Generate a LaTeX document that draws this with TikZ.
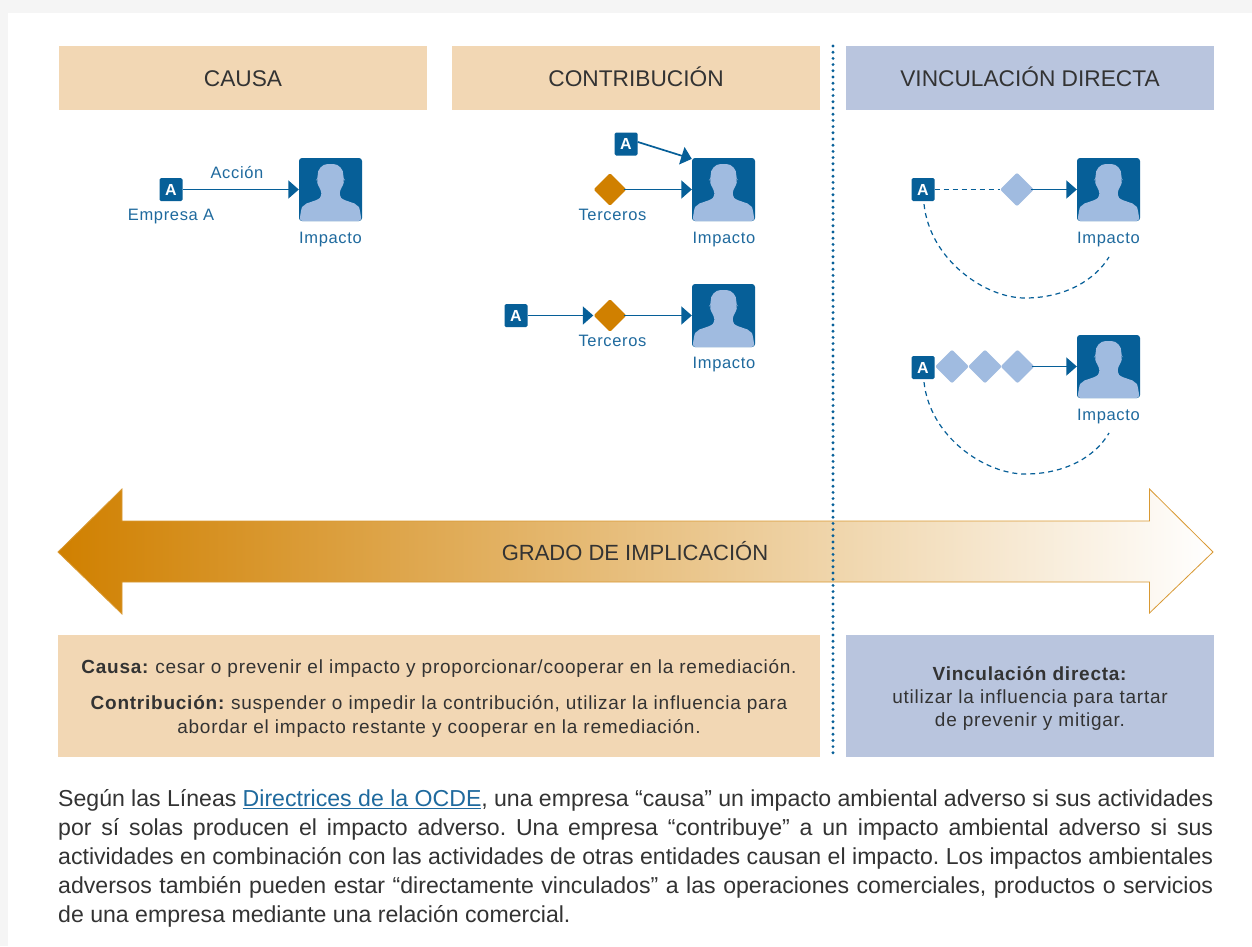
\documentclass[tikz,border=0pt]{standalone}
\usepackage{fontspec}
\setmainfont{Liberation Sans}
\usetikzlibrary{arrows.meta,shapes.geometric,calc}
\definecolor{bgGrey}{HTML}{F5F5F5}
\definecolor{sand}{HTML}{F2D7B4}
\definecolor{slate}{HTML}{B9C5DE}
\definecolor{navy}{HTML}{065F98}
\definecolor{pale}{HTML}{A0BBE0}
\definecolor{ochre}{HTML}{D08000}
\definecolor{ink}{HTML}{333333}
\definecolor{lbl}{HTML}{1F6A9E}
\newcommand{\fs}[1]{\fontsize{#1}{#1}\selectfont}
\newcommand{\track}[1]{\addfontfeature{LetterSpace=#1}}
\tikzset{
  x=1pt,y=-1pt,
  band/.style={fill=#1,minimum width=368pt,minimum height=64pt,inner sep=0pt,font=\fs{22.7},text=ink,text height=16pt,text depth=0pt},
  person/.style={fill=navy,rounded corners=3pt,minimum size=63pt,inner sep=0pt,
    path picture={\fill[pale,shift={(path picture bounding box.center)}]
      (-9,6) -- (-9.5,0.5) -- (-12.5,-4) -- (-14,-9.5) -- (-12.5,-11)
      .. controls (-13.5,-20) and (-8,-25.5) .. (0,-25.5)
      .. controls (8,-25.5) and (13.5,-20) .. (12.5,-11)
      -- (14,-9.5) -- (12.5,-4) -- (9.5,0.5) -- (9,6)
      .. controls (11,9) and (14,10.5) .. (17,11.5)
      .. controls (21,13) and (24,14) .. (26,15.5)
      .. controls (29,18) and (30,24) .. (31,31.5)
      -- (-31,31.5)
      .. controls (-30,24) and (-29,18) .. (-26,15.5)
      .. controls (-24,14) and (-21,13) .. (-17,11.5)
      .. controls (-14,10.5) and (-11,9) .. (-9,6) -- cycle;}},
  firm/.style={fill=navy,rounded corners=1.5pt,minimum size=23pt,inner sep=0pt,text=white,font=\bfseries\fs{16}},
  third/.style={diamond,fill=ochre,minimum width=33pt,minimum height=33pt,inner sep=0pt,rounded corners=1.5pt},
  linkdiamond/.style={diamond,fill=pale,minimum width=34pt,minimum height=34pt,inner sep=0pt,rounded corners=2pt},
  lab/.style={text=lbl,font=\fs{16.5}\track{4},inner sep=0pt,text height=12pt,text depth=3.5pt},
  flow/.style={navy,line width=1.7pt,-{Triangle[length=10.5pt,width=18pt]}},
  fromdiamond/.style={flow,shorten <=-3pt},
  dashline/.style={navy,line width=1.2pt,dash pattern=on 5pt off 4pt},
  note/.style={fill=#1,inner sep=0pt,minimum height=122pt},
  notetext/.style={inner sep=0pt,text=ink,font=\fs{19}\track{4}\frenchspacing,text height=14pt,text depth=4pt},
}
\begin{document}
\begin{tikzpicture}
\useasboundingbox (0,0) rectangle (1252,946);
\fill[bgGrey] (0,0) rectangle (1252,946);
\fill[white] (8,13) rectangle (1252,946);
% headers
\node[band=sand] (h1) at (243,78) {CAUSA};
\node[band=sand] (h2) at (636,78) {CONTRIBUCIÓN};
\node[band=slate] (h3) at (1030,78) {VINCULACIÓN DIRECTA};
% causa
\node[person] (p1) at (330.5,189.5) {};
\node[firm] (a1) at (171,189.5) {A};
\draw[flow] (a1) -- (p1);
\node[lab] (l1) at (237,174) {Acción};
\node[lab] (l2) at (171,216) {Empresa A};
\node[lab] (i1) at (330.5,239) {Impacto};
% contribucion 1
\node[person] (p2) at (723.5,189.5) {};
\node[firm] (a2) at (626,144) {A};
\node[third] (d2) at (610,189.5) {};
\draw[flow] (a2.10) -- (p2.136);
\draw[fromdiamond] (d2) -- (p2);
\node[lab] (t2) at (612.5,216) {Terceros};
\node[lab] (i2) at (724,239) {Impacto};
% contribucion 2
\node[person] (p3) at (723.5,315.5) {};
\node[firm] (a3) at (516,315.5) {A};
\node[third] (d3) at (610,315.5) {};
\draw[flow] (a3) -- (d3);
\draw[fromdiamond] (d3) -- (p3);
\node[lab] (t3) at (612.5,342) {Terceros};
\node[lab] (i3) at (724,364) {Impacto};
% vinculacion 1
\node[person] (p4) at (1108.5,189.5) {};
\node[firm] (a4) at (923,189.5) {A};
\node[linkdiamond] (d4) at (1017,189.5) {};
\draw[dashline] (a4) -- (d4);
\draw[fromdiamond] (d4) -- (p4);
\node[lab] (i4) at (1108.5,239) {Impacto};
\coordinate (e4) at (1109,257);
\draw[dashline] (a4.south) ++(1,3) .. controls (930,260) and (985,298) .. (1025,298) .. controls (1065,298) and (1095,280) .. (e4);
% vinculacion 2
\node[person] (p5) at (1108.5,366.5) {};
\node[firm] (a5) at (923,367.5) {A};
\node[linkdiamond] (d5a) at (952,366.5) {};
\node[linkdiamond] (d5b) at (985,366.5) {};
\node[linkdiamond] (d5c) at (1017.5,366.5) {};
\draw[fromdiamond] (d5c) -- (p5);
\node[lab] (i5) at (1108.5,416) {Impacto};
\coordinate (e5) at (1109,433);
\draw[dashline] (a5.south) ++(1,3) .. controls (930,437) and (985,474) .. (1025,474) .. controls (1065,474) and (1095,457) .. (e5);
% big arrow
\path[draw=ochre!80,line width=0.8pt,left color=ochre,right color=white]
  (58,552) -- (122,489) -- (122,521) -- (1149.5,521) -- (1149.5,489) -- (1213,552) -- (1149.5,613) -- (1149.5,582) -- (122,582) -- (122,614) -- cycle;
\node[text=ink,font=\fs{22},inner sep=0pt] (g) at (635,551.5) {GRADO DE IMPLICACIÓN};
% notes
\node[note=sand,minimum width=762pt] (n1) at (439,696) {};
\node[notetext] (t1) at (439,668) {\textbf{Causa:} cesar o prevenir el impacto y proporcionar/cooperar en la remediación.};
\node[notetext] (t2b) at (439,704) {\textbf{Contribución:} suspender o impedir la contribución, utilizar la influencia para};
\node[notetext] (t3b) at (439,728) {abordar el impacto restante y cooperar en la remediación.};
\node[note=slate,minimum width=368pt] (n2) at (1030,696) {};
\node[notetext] (t4) at (1030,675) {\textbf{Vinculación directa:}};
\node[notetext] (t5) at (1030,698) {utilizar la influencia para tartar};
\node[notetext] (t6) at (1030,721) {de prevenir y mitigar.};
% divider
\coordinate (v1) at (833,46);
\coordinate (v2) at (833,758);
\draw[navy,line width=3.2pt,line cap=round,dash pattern=on 0pt off 6.2pt] (v1) -- (v2);
% body
\node[anchor=north west,inner sep=0pt,text width=1155pt,align=justify,text=ink,font=\fs{23.1}] (b) at (58,789) {%
\frenchspacing\baselineskip=29pt
Según las Líneas {\color{lbl}\underline{Directrices de la OCDE}}, una empresa “causa” un impacto ambiental adverso si sus actividades\linebreak
por sí solas producen el impacto adverso. Una empresa “contribuye” a un impacto ambiental adverso si sus\linebreak
actividades en combinación con las actividades de otras entidades causan el impacto. Los impactos ambientales\linebreak
adversos también pueden estar “directamente vinculados” a las operaciones comerciales, productos o servicios\linebreak
de una empresa mediante una relación comercial.\par};
\end{tikzpicture}
\end{document}
